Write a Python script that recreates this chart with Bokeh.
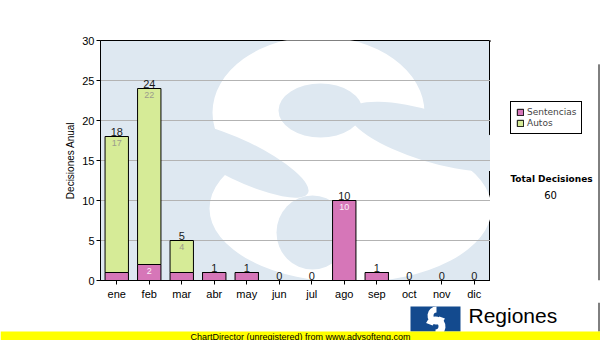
from bokeh.plotting import figure
from bokeh.layouts import column, row
from bokeh.models import (FactorRange, Range1d, ColumnDataSource, Legend, LegendItem,
                          Label, BoxAnnotation, FixedTicker)
from bokeh.core.properties import value
from bokeh.embed import file_html
from bokeh.resources import INLINE

# ---------------- data ----------------
months = ["ene", "feb", "mar", "abr", "may", "jun", "jul", "ago", "sep", "oct", "nov", "dic"]
sentencias = [1, 2, 1, 1, 1, 0, 0, 10, 1, 0, 0, 0]
autos = [17, 22, 4, 0, 0, 0, 0, 0, 0, 0, 0, 0]
y_ticks = [0, 5, 10, 15, 20, 25, 30]
series_names = ["Sentencias", "Autos"]

totals = [s + a for s, a in zip(sentencias, autos)]
total_decisiones = sum(totals)

PINK = "#d676b8"
GREEN = "#d6eb97"
BG = "#dee8f1"
AX_FONT = value("Liberation Sans")

# frame geometry (page pixels), used only for decorations
FL, FR, FT, FB = 100, 490, 40, 280
YMAX = 30
TOP_H = 302


def fx(px):
    return (px - FL) / (FR - FL) * len(months)


def fy(py):
    return (FB - py) / (FB - FT) * YMAX


src = ColumnDataSource(dict(months=months, sentencias=sentencias, autos=autos,
                            totals=totals, tot_txt=[str(t) for t in totals]))

# ---------------- main chart ----------------
p = figure(x_range=FactorRange(*months), y_range=Range1d(0, YMAX),
           width=FR, height=TOP_H, output_backend="svg", toolbar_location=None,
           min_border_left=FL, min_border_right=0, min_border_top=FT,
           min_border_bottom=TOP_H - FB)

p.background_fill_color = BG
p.border_fill_color = "white"
p.outline_line_color = "black"
p.outline_line_width = 1

# watermark: white "S" built from layered ellipses, behind the grid
wm = [  # (cx, cy, w, h, angle, colour) in page pixels
    (318, 112, 212, 152, 0.0, "white"),
    (350, 208, 282, 148, 0.0, "white"),
    (320, 110, 84, 54, 0.0, BG),
    (430, 136, 170, 50, -0.3, BG),
    (312, 232, 72, 74, 0.0, BG),
    (240, 160, 150, 40, -0.45, BG),
]
for cx, cy, w, h, ang, col in wm:
    p.ellipse(x=[fx(cx)], y=[fy(cy)], width=[w], height=[h], angle=[ang],
              width_units="screen", height_units="screen",
              fill_color=col, line_color=None, level="image")

p.xgrid.visible = False
p.ygrid.ticker = FixedTicker(ticks=y_ticks)
p.ygrid.grid_line_color = "#b3b3b3"
p.ygrid.grid_line_width = 1

rs = p.vbar_stack(["sentencias", "autos"], x="months", width=0.72, source=src,
                  color=[PINK, GREEN], line_color="black", line_width=1)

p.text(x="months", y="totals", text="tot_txt", source=src, text_align="center",
       text_baseline="bottom", y_offset=-1, text_font=AX_FONT, text_font_size="11px",
       text_color="#1a1a1a")

ia = [i for i, a in enumerate(autos) if a >= 2]
p.text(x=[months[i] for i in ia], y=[totals[i] for i in ia], text=[str(autos[i]) for i in ia],
       text_align="center", text_baseline="top", y_offset=3, text_font=AX_FONT,
       text_font_size="9px", text_color="#9c9c8c")
isn = [i for i, s in enumerate(sentencias) if s >= 2]
p.text(x=[months[i] for i in isn], y=[sentencias[i] for i in isn],
       text=[str(sentencias[i]) for i in isn],
       text_align="center", text_baseline="top", y_offset=3, text_font=AX_FONT,
       text_font_size="9px", text_color="#fbeef7")

p.yaxis.ticker = FixedTicker(ticks=y_ticks)
p.yaxis.axis_label = "Decisiones Anual"
p.yaxis.axis_label_text_font = "Liberation Sans"
p.yaxis.axis_label_text_font_style = "normal"
p.yaxis.axis_label_text_font_size = "10px"
p.yaxis.axis_label_standoff = 3
p.yaxis.major_label_text_font = "Liberation Sans"
p.yaxis.major_label_text_font_size = "11px"
p.yaxis.major_label_standoff = 2
p.yaxis.minor_tick_line_color = None
p.yaxis.major_tick_in = 0
p.yaxis.major_tick_out = 4
p.xaxis.major_label_text_font = "Liberation Sans"
p.xaxis.major_label_text_font_size = "11px"
p.xaxis.major_label_standoff = 3
p.xaxis.major_tick_in = 0
p.xaxis.major_tick_out = 4
for ax in (p.xaxis, p.yaxis):
    ax.axis_line_color = "black"
    ax.major_tick_line_color = "black"
    ax.major_label_text_color = "black"
    ax.axis_label_text_color = "black"

# ---------------- right side panel (legend + total) ----------------
RW = 600 - FR
side = figure(width=RW, height=TOP_H, x_range=Range1d(0, RW), y_range=Range1d(TOP_H, 0),
              output_backend="svg", toolbar_location=None, min_border=0)
side.axis.visible = False
side.grid.visible = False
side.outline_line_color = None
side.background_fill_color = "white"
side.border_fill_color = "white"

# legend swatches (series colours; drawn off-screen, shown only in the legend)
sw = [side.vbar(x=[-50], top=[1], width=1, fill_color=c, line_color="black") for c in (PINK, GREEN)]
legend = Legend(items=[LegendItem(label=series_names[0], renderers=[sw[0]]),
                       LegendItem(label=series_names[1], renderers=[sw[1]])],
                location=(510 - FR, TOP_H - 156), orientation="vertical",
                label_text_font="DejaVu Sans", label_text_font_size="9px",
                label_height=10, label_standoff=3, glyph_width=8, glyph_height=8,
                spacing=1, padding=5, margin=0, border_line_color="black",
                border_line_alpha=1, border_line_width=1,
                background_fill_color="white", background_fill_alpha=1)
side.add_layout(legend, "center")

side.add_layout(Label(x=551 - FR, y=174, text="Total Decisiones",
                      text_align="center", text_baseline="middle", text_font="DejaVu Sans",
                      text_font_style="bold", text_font_size="9px", text_color="black"))
side.add_layout(Label(x=550 - FR, y=195, text=str(total_decisiones),
                      text_align="center", text_baseline="middle", text_font="DejaVu Sans",
                      text_font_size="10px", text_color="black"))
side.segment(x0=[RW - 1.5], y0=[30], x1=[RW - 1.5], y1=[TOP_H], line_color="black", line_width=1)

# ---------------- footer (logo + yellow bar) ----------------
BH = 340 - TOP_H
foot = figure(width=600, height=BH, x_range=Range1d(0, 600), y_range=Range1d(BH, 0),
              output_backend="svg", toolbar_location=None, min_border=0)
foot.axis.visible = False
foot.grid.visible = False
foot.outline_line_color = None
foot.background_fill_color = "white"
foot.border_fill_color = "white"

foot.quad(left=[410], right=[460], top=[306 - TOP_H], bottom=[331 - TOP_H],
          fill_color="#134a8e", line_color=None)
foot.annular_wedge(x=[436, 435], y=[315 - TOP_H, 326 - TOP_H],
                   inner_radius=[3, 3], outer_radius=[9, 10],
                   inner_radius_units="screen", outer_radius_units="screen",
                   start_angle=[1.5708, 4.712], end_angle=[5.93, 9.08],
                   direction="anticlock", color="white", line_color=None)
foot.add_layout(Label(x=468, y=315 - TOP_H, text="Regiones",
                      text_align="left", text_baseline="middle", text_font="Liberation Sans",
                      text_font_size="21px", text_color="black"))
foot.segment(x0=[598.5], y0=[0], x1=[598.5], y1=[331 - TOP_H], line_color="black", line_width=1)
foot.add_layout(BoxAnnotation(left=0, right=600, top=331 - TOP_H, bottom=BH,
                              fill_color="#ffff00", fill_alpha=1,
                              line_color=None, level="overlay"))
foot.add_layout(Label(x=190, y=336 - TOP_H,
                      text="ChartDirector (unregistered) from www.advsofteng.com",
                      text_align="left", text_baseline="middle", text_font="Liberation Sans",
                      text_font_size="9px", text_color="black", level="overlay"))

layout = column(row(p, side, spacing=0), foot, spacing=0)
open("out.html", "w").write(file_html(layout, INLINE))
